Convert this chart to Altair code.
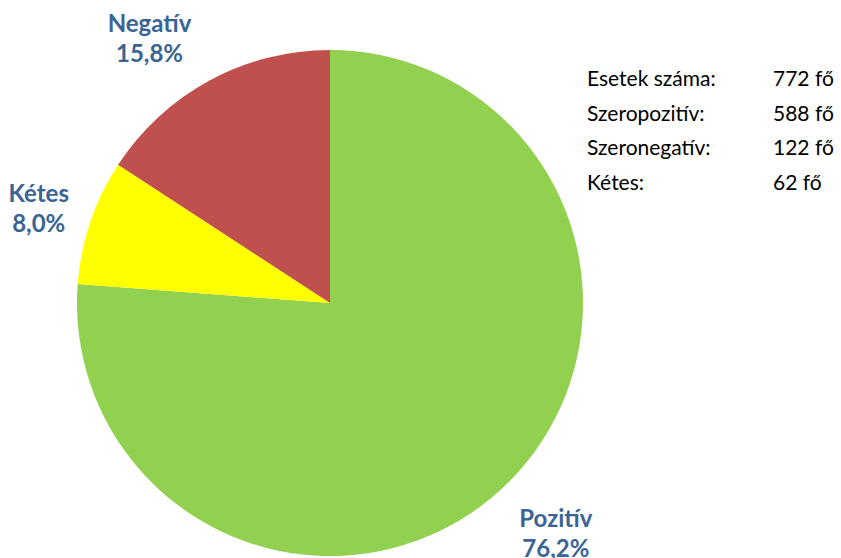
import altair as alt
import pandas as pd

categories = ["Pozitív", "Kétes", "Negatív"]
shares = [76.2, 8.0, 15.8]
share_labels = ["76,2%", "8,0%", "15,8%"]
colors = ["#92D050", "#FFFF00", "#C0504D"]

info_labels = ["Esetek száma:", "Szeropozitív:", "Szeronegatív:", "Kétes:"]
info_values = ["772 fő", "588 fő", "122 fő", "62 fő"]

pie_df = pd.DataFrame({
    "cat": categories,
    "share": shares,
    "order": list(range(len(categories))),
    "label": [[c, s] for c, s in zip(categories, share_labels)],
})
info_df = pd.DataFrame({"label": info_labels, "value": info_values})

cx, cy = 330, 303

base = alt.Chart(pie_df)

pie = base.mark_arc(outerRadius=253, stroke=None).encode(
    theta=alt.Theta("share:Q", stack=True),
    order=alt.Order("order:Q"),
    color=alt.Color("cat:N", scale=alt.Scale(domain=categories, range=colors), legend=None),
    x=alt.value(cx),
    y=alt.value(cy),
)

# label nudges (Excel best-fit style placement), per category
nudges = {"Pozitív": (11, -15), "Kétes": (8, -7), "Negatív": (-30, 0)}

label_layers = []
for cat in categories:
    ddx, ddy = nudges[cat]
    label_layers.append(
        base.mark_text(
            radius=316, font="Lato", fontSize=24, fontWeight="bold", color="#3A6496",
            baseline="middle", align="center", lineHeight=30, dx=ddx, dy=ddy,
        ).encode(
            theta=alt.Theta("share:Q", stack=True),
            order=alt.Order("order:Q"),
            text="label",
            opacity=alt.condition(alt.datum.cat == cat, alt.value(1), alt.value(0)),
            x=alt.value(cx),
            y=alt.value(cy),
        )
    )

info_y = alt.Y("label:N", sort=info_labels, axis=None,
               scale=alt.Scale(type="point", range=[80, 184], padding=0))

info_left = alt.Chart(info_df).mark_text(
    font="Lato", fontSize=21, color="#000000", align="left", baseline="middle"
).encode(x=alt.value(587), y=info_y, text="label:N")

info_right = alt.Chart(info_df).mark_text(
    font="Lato", fontSize=21, color="#000000", align="left", baseline="middle"
).encode(x=alt.value(773), y=info_y, text="value:N")

chart = alt.layer(pie, *label_layers, info_left, info_right).properties(
    width=841, height=558, padding=0, autosize=alt.AutoSizeParams(type="none"),
    background="white",
).configure_view(stroke=None)

chart.save("out.html", embed_options={"renderer": "svg", "actions": False})
